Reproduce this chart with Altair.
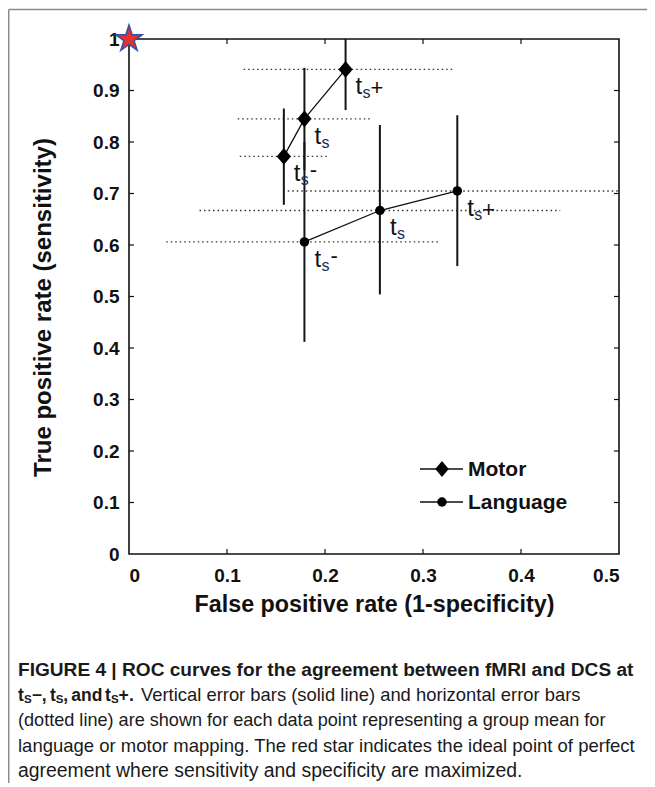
import altair as alt
import pandas as pd

# ---------------- data ----------------
series = ["Motor", "Language"]
signs = ["-", "", "+"]                      # t_s-, t_s, t_s+

motor_fpr = [0.158, 0.179, 0.221]
motor_tpr = [0.772, 0.845, 0.941]
motor_tpr_lo = [0.678, 0.745, 0.862]
motor_tpr_hi = [0.865, 0.944, 1.000]
motor_fpr_lo = [0.113, 0.111, 0.117]
motor_fpr_hi = [0.203, 0.248, 0.330]

lang_fpr = [0.179, 0.256, 0.335]
lang_tpr = [0.606, 0.667, 0.705]
lang_tpr_lo = [0.412, 0.504, 0.559]
lang_tpr_hi = [0.800, 0.833, 0.852]
lang_fpr_lo = [0.038, 0.072, 0.162]
lang_fpr_hi = [0.316, 0.440, 0.500]

ideal_point = [0.0, 1.0]
x_ticks = [0, 0.1, 0.2, 0.3, 0.4, 0.5]
y_ticks = [0, 0.1, 0.2, 0.3, 0.4, 0.5, 0.6, 0.7, 0.8, 0.9, 1]

x_title = "False positive rate (1-specificity)"
y_title = "True positive rate (sensitivity)"

caption_line1 = "FIGURE 4 | ROC curves for the agreement between fMRI and DCS at"
caption_line2 = "Vertical error bars (solid line) and horizontal error bars"
caption_line3 = "(dotted line) are shown for each data point representing a group mean for"
caption_line4 = "language or motor mapping. The red star indicates the ideal point of perfect"
caption_line5 = "agreement where sensitivity and specificity are maximized."

# ---------------- tables ----------------
rows = []
for s, fx, ty, tlo, thi, flo, fhi in [
    ("Motor", motor_fpr, motor_tpr, motor_tpr_lo, motor_tpr_hi, motor_fpr_lo, motor_fpr_hi),
    ("Language", lang_fpr, lang_tpr, lang_tpr_lo, lang_tpr_hi, lang_fpr_lo, lang_fpr_hi),
]:
    for i in range(3):
        rows.append(dict(series=s, idx=i, fpr=fx[i], tpr=ty[i], tlo=tlo[i], thi=thi[i],
                         flo=flo[i], fhi=fhi[i], sign=signs[i]))
df = pd.DataFrame(rows)

W, H = 490, 515
FONT = "Liberation Sans"

xs = alt.Scale(domain=[0, 0.5], nice=False, zero=False)
ys = alt.Scale(domain=[0, 1], nice=False, zero=False)

x_axis = alt.Axis(
    values=x_ticks, format="~g", title=x_title, labelFont=FONT, labelFontSize=19,
    labelFontWeight="bold", labelColor="#111", labelPadding=12, ticks=False, tickSize=0,
    domain=False, grid=False, titleFont=FONT, titleFontSize=23.3, titleFontWeight="bold",
    titleColor="#111", titlePadding=8)
y_axis = alt.Axis(
    values=y_ticks, format="~g", title=y_title, labelFont=FONT, labelFontSize=19,
    labelFontWeight="bold", labelColor="#111", labelPadding=10, ticks=False, tickSize=0,
    domain=False, grid=False, titleFont=FONT, titleFontSize=24, titleFontWeight="bold",
    titleColor="#111", titlePadding=37, titleY=268)

DIAMOND = "M0,-1L0.85,0L0,1L-0.85,0Z"
STAR = ("M0,-1L0.2245,-0.309L0.951,-0.309L0.363,0.118L0.588,0.809L0,0.382"
        "L-0.588,0.809L-0.363,0.118L-0.951,-0.309L-0.2245,-0.309Z")

base = alt.Chart(df)
X = alt.X("fpr:Q", scale=xs)
Y = alt.Y("tpr:Q", scale=ys)

hbars = base.mark_rule(color="#333", strokeWidth=1.4, strokeDash=[1.5, 3]).encode(
    x=alt.X("flo:Q", scale=xs, axis=x_axis), x2="fhi:Q", y=alt.Y("tpr:Q", scale=ys, axis=y_axis))
vbars = base.mark_rule(color="#151515", strokeWidth=2).encode(
    x=X, y=alt.Y("tlo:Q", scale=ys), y2="thi:Q")
lines = base.mark_line(color="#111", strokeWidth=1.3).encode(
    x=X, y=Y, detail="series:N", order="idx:Q")
points = base.mark_point(filled=True, color="black", opacity=1).encode(
    x=X, y=Y,
    shape=alt.Shape("series:N", scale=alt.Scale(domain=series, range=[DIAMOND, "circle"]), legend=None),
    size=alt.Size("series:N", scale=alt.Scale(domain=series, range=[280, 90]), legend=None))

lab_t = base.mark_text(text="t", align="left", baseline="alphabetic", dx=10, dy=25,
                       font=FONT, fontSize=24, color="#111").encode(x=X, y=Y)
lab_s = base.mark_text(text="s", align="left", baseline="alphabetic", dx=17, dy=29,
                       font=FONT, fontSize=16, color="#1a2a55").encode(x=X, y=Y)
lab_plus = base.transform_filter("datum.sign == '+'").mark_text(
    align="left", baseline="alphabetic", dx=25, dy=26, font=FONT, fontSize=22, color="#111").encode(
    x=X, y=Y, text="sign:N")
lab_minus = base.transform_filter("datum.sign == '-'").mark_text(
    align="left", baseline="alphabetic", dx=26, dy=21, font=FONT, fontSize=22, color="#111").encode(
    x=X, y=Y, text="sign:N")

star = alt.Chart(pd.DataFrame({"fpr": [ideal_point[0]], "tpr": [ideal_point[1]]})).mark_point(
    shape=STAR, filled=True, fill="#e8302c", stroke="#3550a8", strokeWidth=1.5, opacity=1,
    size=780, clip=False).encode(x=X, y=Y)

# inward ticks on all four sides (MATLAB style)
xt = alt.Chart(pd.DataFrame({"v": x_ticks[1:-1]}))
yt = alt.Chart(pd.DataFrame({"v": y_ticks[1:-1]}))
TK = 5
tick_b = xt.mark_rule(color="#111", strokeWidth=1.2).encode(
    x=alt.X("v:Q", scale=xs), y=alt.value(H), y2=alt.value(H - TK))
tick_t = xt.mark_rule(color="#111", strokeWidth=1.2).encode(
    x=alt.X("v:Q", scale=xs), y=alt.value(0), y2=alt.value(TK))
tick_l = yt.mark_rule(color="#111", strokeWidth=1.2).encode(
    y=alt.Y("v:Q", scale=ys), x=alt.value(0), x2=alt.value(TK))
tick_r = yt.mark_rule(color="#111", strokeWidth=1.2).encode(
    y=alt.Y("v:Q", scale=ys), x=alt.value(W), x2=alt.value(W - TK))

# legend (drawn by hand: line + marker + bold label)
legend_layers = []
for k, (name, shp, sz) in enumerate([("Motor", DIAMOND, 250), ("Language", "circle", 90)]):
    ly = 430 + 33 * k
    d = alt.Chart(pd.DataFrame({"name": [name]}))
    legend_layers.append(d.mark_rule(color="#111", strokeWidth=1.3).encode(
        x=alt.value(291), x2=alt.value(334), y=alt.value(ly)))
    legend_layers.append(d.mark_point(shape=shp, filled=True, color="black", opacity=1, size=sz).encode(
        x=alt.value(313), y=alt.value(ly)))
    legend_layers.append(d.mark_text(align="left", baseline="middle", font=FONT, fontSize=21,
                                     fontWeight="bold", color="#111").encode(
        x=alt.value(339), y=alt.value(ly + 1), text="name:N"))


def txt(s, x, y, size, bold=False, color="#1a1a1a"):
    return alt.Chart(pd.DataFrame({"s": [s]})).mark_text(
        align="left", baseline="alphabetic", font=FONT, fontSize=size,
        fontWeight="bold" if bold else "normal", color=color).encode(
        x=alt.value(x), y=alt.value(y), text="s:N")


X0 = 18 - 129   # caption left edge relative to plot origin
B1 = 676 - 39
LH = 25.2
B2 = B1 + LH
BS = 17.5        # bold size of the "t_S-, t_S, and t_S+." run
SS = 11.5        # its small subscript S
cap = [
    txt(caption_line1, X0, B1, 19.1, True),
    txt("t", X0, B2, BS, True),
    txt("S", X0 + 5.9, B2 + 1.5, SS, True),
    txt("\u2212", X0 + 13.8, B2, BS, True),
    txt(",", X0 + 23.8, B2, BS, True),
    txt("t", X0 + 31.9, B2, BS, True),
    txt("S", X0 + 37.8, B2 + 1.5, SS, True),
    txt(",", X0 + 45.3, B2, BS, True),
    txt("and", X0 + 53.3, B2, BS, True),
    txt("t", X0 + 87, B2, BS, True),
    txt("S", X0 + 92.9, B2 + 1.5, SS, True),
    txt("+", X0 + 100.6, B2, BS, True),
    txt(".", X0 + 111, B2, BS, True),
    txt(caption_line2, X0 + 123, B2, 18.4),
    txt(caption_line3, X0, B1 + 2 * LH, 18.1),
    txt(caption_line4, X0, B1 + 3 * LH, 18.5),
    txt(caption_line5, X0, B1 + 4 * LH, 19.4),
]

# outer figure frame (gray)
fr = alt.Chart(pd.DataFrame({"a": [0]}))
frame_top = fr.mark_rule(color="#8a8a8a", strokeWidth=1.5).encode(
    x=alt.value(-120.3), x2=alt.value(530), y=alt.value(-29.5))
frame_left = fr.mark_rule(color="#8a8a8a", strokeWidth=1.5).encode(
    x=alt.value(-120.3), y=alt.value(-29.5), y2=alt.value(760))

chart = alt.layer(
    hbars, frame_top, frame_left, vbars, lines, points, lab_t, lab_s, lab_plus, lab_minus,
    tick_b, tick_t, tick_l, tick_r,
    *legend_layers, *cap, star,
).properties(
    width=W, height=H, autosize="none",
    padding={"left": 121, "top": 31, "right": 28, "bottom": 229},
    background="white",
).configure_view(stroke="#111", strokeWidth=1.6)

chart.save("out.html", embed_options={"renderer": "svg", "actions": False})
